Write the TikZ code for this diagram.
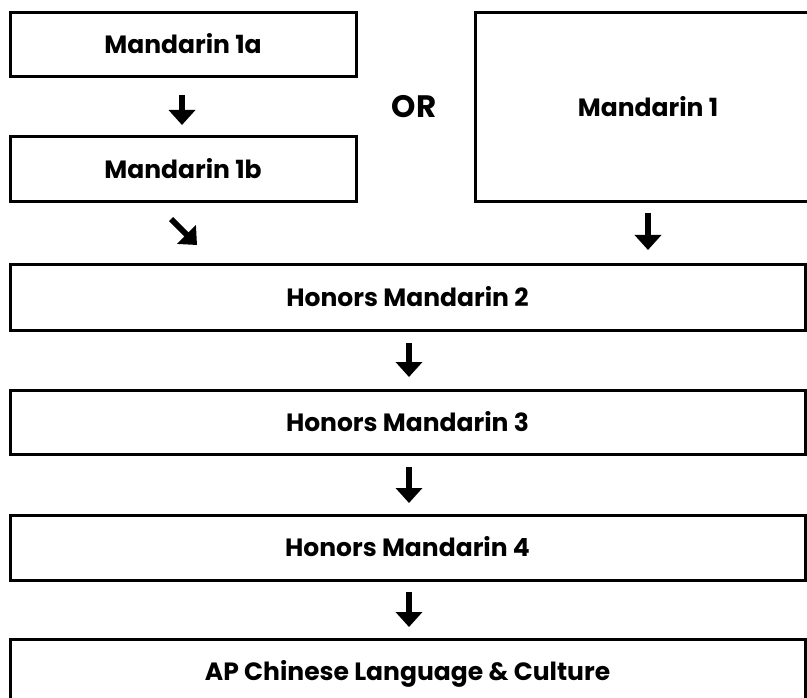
\documentclass[tikz,border=0pt]{standalone}
\usepackage{fontspec}
\setmainfont{Poppins}[UprightFont=* Bold, BoldFont=* Bold]
\usetikzlibrary{arrows.meta}
\begin{document}
\begin{tikzpicture}[x=1pt,y=-1pt,
  box/.style={draw=black,line width=3pt,fill=white},
  lbl/.style={font=\fontsize{25}{30}\selectfont,inner sep=0pt,anchor=base},
  arr/.style={line width=6pt,-{Triangle[width=26pt,length=15pt]}}]
\useasboundingbox (0,0) rectangle (807,698);
\clip (0,0) rectangle (807,698);
% boxes
\draw[box] (10,13) rectangle (356,77);
\node[lbl] (m1a) at (183,54) {Mandarin 1a};
\draw[box] (10,137) rectangle (356,202);
\node[lbl] (m1b) at (183,178.5) {Mandarin 1b};
\draw[box] (475,13) rectangle (822,202);
\node[lbl] (m1) at (648,116.5) {Mandarin 1};
\node[lbl,font=\fontsize{31}{36}\selectfont] (or) at (414,118) {OR};
\draw[box] (10,265) rectangle (805,330);
\node[lbl] (h2) at (407.5,306.5) {Honors Mandarin 2};
\draw[box] (10,390) rectangle (805,454);
\node[lbl] (h3) at (407.5,431) {Honors Mandarin 3};
\draw[box] (10,515) rectangle (805,580);
\node[lbl] (h4) at (407.5,556.5) {Honors Mandarin 4};
\draw[box] (10,639) rectangle (805,720);
\node[lbl] (ap) at (407.5,680) {AP Chinese Language \& Culture};
% arrow end points
\coordinate (a1s) at (182,95);  \coordinate (a1e) at (182,125);
\coordinate (dgs) at (171,219); \coordinate (dge) at (197,245);
\coordinate (a2s) at (648,213); \coordinate (a2e) at (648,250);
\coordinate (a3s) at (409,343); \coordinate (a3e) at (409,377);
\coordinate (a4s) at (409,467); \coordinate (a4e) at (409,503);
\coordinate (a5s) at (409,592); \coordinate (a5e) at (409,627);
\draw[arr] (a1s) -- (a1e);
\draw[arr] (dgs) -- (dge);
\draw[arr] (a2s) -- (a2e);
\draw[arr] (a3s) -- (a3e);
\draw[arr] (a4s) -- (a4e);
\draw[arr] (a5s) -- (a5e);
\end{tikzpicture}
\end{document}
